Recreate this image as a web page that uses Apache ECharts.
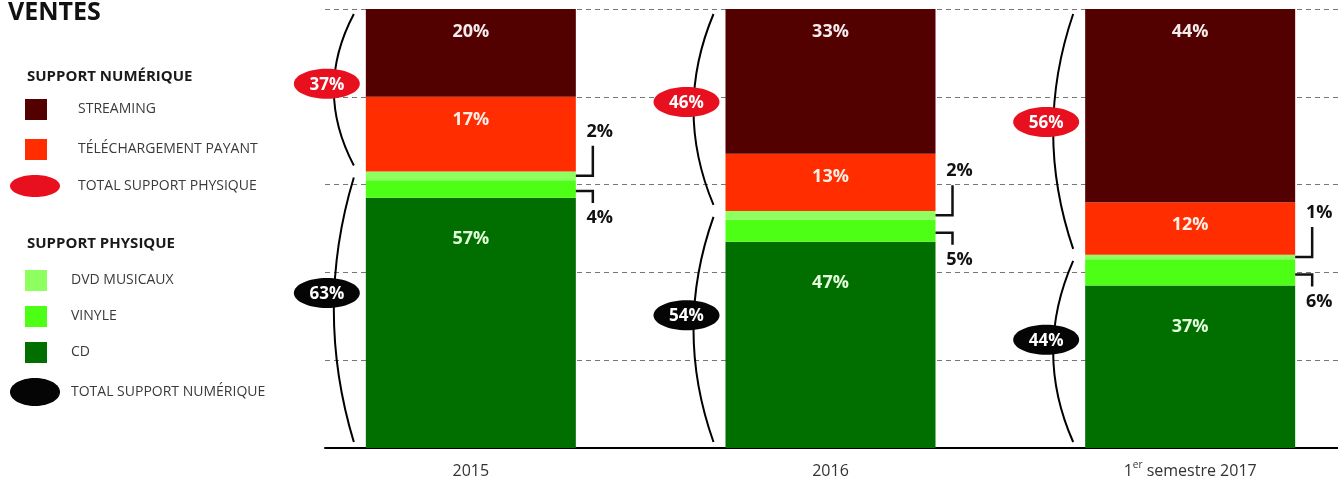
<!DOCTYPE html>
<html><head><meta charset="utf-8">
<script src="https://cdn.jsdelivr.net/npm/echarts@6/dist/echarts.min.js"></script>
<style>html,body{margin:0;padding:0;background:#fff}#c{width:1338px;height:482px}</style>
</head><body><div id="c"></div>
<script>
// ---- data ----
const categories = ['2015', '2016', '1er semestre 2017'];
const streaming = [20, 33, 44];
const telechargement = [17, 13, 12];
const dvdMusicaux = [2, 2, 1];
const vinyle = [4, 5, 6];
const cd = [57, 47, 37];
const totalNumerique = [37, 46, 56];
const totalPhysique = [63, 54, 44];

// ---- styles ----
const FF = '"Open Sans", "DejaVu Sans", sans-serif';
const BAR_W = 210;
const C = {
  streaming: '#520000', tele: '#ff2d00', dvd: '#8dff5e', vinyle: '#4cff14', cd: '#006f00',
  red: '#e8101e', black: '#050505'
};

const physTop = categories.map((_, i) => cd[i] + vinyle[i] + dvdMusicaux[i]);
const allTop = categories.map((_, i) => physTop[i] + telechargement[i] + streaming[i]);

function ellipsePath(w, h) {
  const rx = w / 2, ry = h / 2, kx = rx * 0.5523, ky = ry * 0.5523;
  return `path://M0,${ry} C0,${ry - ky} ${rx - kx},0 ${rx},0 C${rx + kx},0 ${w},${ry - ky} ${w},${ry} C${w},${ry + ky} ${rx + kx},${h} ${rx},${h} C${rx - kx},${h} 0,${ry + ky} 0,${ry} Z`;
}

const barLabel = (color, dist) => ({
  show: true, position: 'insideTop', distance: dist, formatter: '{c}%',
  color: color, fontSize: 18, fontWeight: 'bold', fontFamily: FF
});

function bar(name, data, color, label) {
  return {
    name, type: 'bar', stack: 'ventes', xAxisIndex: 1, yAxisIndex: 1,
    barWidth: BAR_W, data, itemStyle: { color }, z: 2,
    label: label || { show: false }
  };
}

function arcEllipse(api, i, lo, hi, frac, color, text, gapTop, gapBot) {
  const cx = api.coord([i, 0])[0];
  const barLeft = cx - BAR_W / 2;
  const yTop = api.coord([i, hi])[1] + gapTop;
  const yBot = api.coord([i, lo])[1] - gapBot;
  const ey = api.coord([i, hi - frac * (hi - lo)])[1];
  const ex = barLeft - 39;
  return {
    type: 'group',
    children: [
      { type: 'bezierCurve', shape: { x1: barLeft - 12, y1: yTop, x2: barLeft - 12, y2: yBot, cpx1: barLeft - 52, cpy1: (yTop + yBot) / 2 },
        style: { stroke: '#000', lineWidth: 2, fill: null } },
      { type: 'ellipse', shape: { cx: ex, cy: ey, rx: 33, ry: 15 }, style: { fill: color } },
      { type: 'text', style: { text: text + '%', x: ex, y: ey + 1, align: 'center', verticalAlign: 'middle',
        fill: '#fff', fontSize: 17, fontWeight: 'bold', fontFamily: FF } }
    ]
  };
}

const legendText = pad => ({ fontFamily: FF, fontSize: 14, color: '#3a3a3a', padding: [0, 0, 0, pad] });

const option = {
  animation: false,
  backgroundColor: '#fff',
  title: [
    { text: 'VENTES', left: 8, top: 0, padding: 0, textStyle: { fontSize: 25, fontWeight: 'bold', color: '#111', fontFamily: FF } },
    { text: 'SUPPORT NUMÉRIQUE', left: 27, top: 69, padding: 0, textStyle: { fontSize: 15, fontWeight: 'bold', color: '#1a1a1a', fontFamily: FF } },
    { text: 'SUPPORT PHYSIQUE', left: 27, top: 236, padding: 0, textStyle: { fontSize: 15, fontWeight: 'bold', color: '#1a1a1a', fontFamily: FF } }
  ],
  legend: [
    { data: [{ name: 'STREAMING', icon: 'rect' }, { name: 'TÉLÉCHARGEMENT PAYANT', icon: 'rect' }],
      orient: 'vertical', left: 25, top: 99, padding: 0, itemWidth: 22, itemHeight: 21, itemGap: 19,
      textStyle: legendText(26) },
    { data: [{ name: 'TOTAL SUPPORT PHYSIQUE', icon: ellipsePath(50, 22) }],
      orient: 'vertical', left: 10, top: 175, padding: 0, itemWidth: 50, itemHeight: 22,
      textStyle: legendText(13) },
    { data: [{ name: 'DVD MUSICAUX', icon: 'rect' }, { name: 'VINYLE', icon: 'rect' }, { name: 'CD', icon: 'rect' }],
      orient: 'vertical', left: 25, top: 270, padding: 0, itemWidth: 22, itemHeight: 21, itemGap: 15,
      textStyle: legendText(19) },
    { data: [{ name: 'TOTAL SUPPORT NUMÉRIQUE', icon: ellipsePath(50, 28) }],
      orient: 'vertical', left: 10, top: 378, padding: 0, itemWidth: 50, itemHeight: 28,
      textStyle: legendText(6) }
  ],
  grid: [
    { left: 325, right: 0, top: 9, bottom: 34, outerBoundsMode: 'none', containLabel: false },
    { left: 291, width: 1079, top: 9, bottom: 34, outerBoundsMode: 'none', containLabel: false }
  ],
  xAxis: [
    { gridIndex: 0, type: 'value', min: 0, max: 1, axisLine: { show: true, lineStyle: { color: '#000', width: 2 } },
      axisTick: { show: false }, axisLabel: { show: false }, splitLine: { show: false } },
    { gridIndex: 1, type: 'category', data: categories, axisLine: { show: false }, axisTick: { show: false },
      axisLabel: {
        margin: 12,
        formatter: v => {
          const m = v.match(/^(\d+)(er)(\s.*)$/);
          return m ? `{n|${m[1]}}{sup|${m[2]}}{n|${m[3]}}` : `{n|${v}}`;
        },
        rich: {
          n: { fontSize: 16, color: '#333', fontFamily: FF, lineHeight: 22 },
          sup: { fontSize: 10, color: '#333', fontFamily: FF, lineHeight: 12, verticalAlign: 'top' }
        }
      } }
  ],
  yAxis: [
    { gridIndex: 0, type: 'value', min: 0, max: 100, interval: 20, axisLine: { show: false }, axisTick: { show: false },
      axisLabel: { show: false }, splitLine: { show: true, lineStyle: { color: '#777', width: 1, type: [5, 4] } } },
    { gridIndex: 1, type: 'value', min: 0, max: 100, interval: 20, show: false, splitLine: { show: false } }
  ],
  series: [
    bar('CD', cd, C.cd, barLabel('#e4ffdc', 32)),
    bar('VINYLE', vinyle, C.vinyle),
    bar('DVD MUSICAUX', dvdMusicaux, C.dvd),
    bar('TÉLÉCHARGEMENT PAYANT', telechargement, C.tele, barLabel('#ffeee6', 14)),
    bar('STREAMING', streaming, C.streaming, barLabel('#f6ecec', 14)),
    {
      name: 'TOTAL SUPPORT PHYSIQUE', type: 'custom', xAxisIndex: 1, yAxisIndex: 1, z: 5,
      itemStyle: { color: C.red },
      data: categories.map((_, i) => [i, physTop[i], allTop[i], totalNumerique[i]]),
      renderItem: (params, api) => arcEllipse(api, api.value(0), api.value(1), api.value(2), 0.46, C.red, api.value(3), 5, 6)
    },
    {
      name: 'TOTAL SUPPORT NUMÉRIQUE', type: 'custom', xAxisIndex: 1, yAxisIndex: 1, z: 5,
      itemStyle: { color: C.black },
      data: categories.map((_, i) => [i, 0, physTop[i], totalPhysique[i]]),
      renderItem: (params, api) => arcEllipse(api, api.value(0), api.value(1), api.value(2), 0.44, C.black, api.value(3), 6, 6)
    },
    {
      name: 'callouts', type: 'custom', xAxisIndex: 1, yAxisIndex: 1, z: 5,
      data: categories.map((_, i) => [i, cd[i], vinyle[i], dvdMusicaux[i]]),
      renderItem: (params, api) => {
        const i = api.value(0), c = api.value(1), v = api.value(2), d = api.value(3);
        const right = api.coord([i, 0])[0] + BAR_W / 2;
        const yd = api.coord([i, c + v + d / 2])[1];
        const yv = api.coord([i, c + v / 2])[1] + 2;
        const lx = right + 17;
        const ts = { fill: '#111', fontSize: 18, fontWeight: 'bold', fontFamily: FF, align: 'center', verticalAlign: 'middle' };
        return {
          type: 'group',
          children: [
            { type: 'polyline', shape: { points: [[right, yd], [lx, yd], [lx, yd - 30]] }, style: { stroke: '#111', lineWidth: 2.5, fill: null } },
            { type: 'text', style: Object.assign({ text: d + '%', x: right + 24, y: yd - 44 }, ts) },
            { type: 'polyline', shape: { points: [[right, yv], [lx, yv], [lx, yv + 12]] }, style: { stroke: '#111', lineWidth: 2.5, fill: null } },
            { type: 'text', style: Object.assign({ text: v + '%', x: right + 24, y: yv + 27 }, ts) }
          ]
        };
      }
    }
  ]
};

const chart = echarts.init(document.getElementById('c'), null, { renderer: 'canvas' });
chart.setOption(option);
</script>
</body></html>
